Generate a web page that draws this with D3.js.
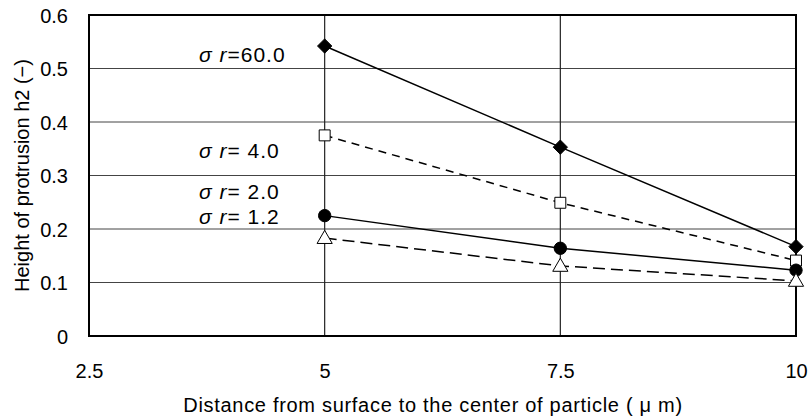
<!DOCTYPE html>
<html>
<head>
<meta charset="utf-8">
<script src="https://cdn.jsdelivr.net/npm/d3@7"></script>
<style>
  body { margin: 0; background: #fff; }
  svg text { font-family: "Liberation Sans", Arial, sans-serif; fill: #000; }
</style>
</head>
<body>
<div id="chart"></div>
<script>
const distances = [5, 7.5, 10];
const xTicks = [2.5, 5, 7.5, 10];
const yTicks = [0, 0.1, 0.2, 0.3, 0.4, 0.5, 0.6];

const sigma60 = [0.542, 0.353, 0.167];
const sigma4 = [0.375, 0.249, 0.141];
const sigma2 = [0.225, 0.164, 0.123];
const sigma12 = [0.183, 0.131, 0.103];

const seriesNames = ["=60.0", "= 4.0", "= 2.0", "= 1.2"];

const width = 808;
const height = 418;
const margin = { top: 15, right: 12, bottom: 82, left: 89 };

const svg = d3.select("#chart")
    .append("svg")
    .attr("width", width)
    .attr("height", height);

const x = d3.scaleLinear()
    .domain([2.5, 10])
    .range([margin.left, width - margin.right]);

const y = d3.scaleLinear()
    .domain([0, 0.6])
    .range([height - margin.bottom, margin.top]);

// horizontal gridlines
svg.append("g")
    .selectAll("line")
    .data(yTicks.slice(1, -1))
    .enter()
    .append("line")
    .attr("x1", x(2.5))
    .attr("x2", x(10))
    .attr("y1", d => y(d))
    .attr("y2", d => y(d))
    .attr("stroke", "#444")
    .attr("stroke-width", 1);

// vertical gridlines
svg.append("g")
    .selectAll("line")
    .data([5, 7.5])
    .enter()
    .append("line")
    .attr("x1", d => x(d))
    .attr("x2", d => x(d))
    .attr("y1", y(0))
    .attr("y2", y(0.6))
    .attr("stroke", "#222")
    .attr("stroke-width", 1.2);

// frame
svg.append("rect")
    .attr("x", x(2.5))
    .attr("y", y(0.6))
    .attr("width", x(10) - x(2.5))
    .attr("height", y(0) - y(0.6))
    .attr("fill", "none")
    .attr("stroke", "#000")
    .attr("stroke-width", 2);

// axes (labels only)
const yAxis = svg.append("g")
    .attr("transform", `translate(${margin.left}, 0)`)
    .call(d3.axisLeft(y).tickValues(yTicks).tickSize(0).tickPadding(21)
        .tickFormat(d => d === 0 ? "0" : d3.format(".1f")(d)));
yAxis.select(".domain").remove();
yAxis.selectAll("text").style("font-size", "20px").attr("dy", "0.35em");

const xAxis = svg.append("g")
    .attr("transform", `translate(0, ${height - margin.bottom})`)
    .call(d3.axisBottom(x).tickValues(xTicks).tickSize(0).tickPadding(28)
        .tickFormat(d => String(d)));
xAxis.select(".domain").remove();
xAxis.selectAll("text").style("font-size", "20px");

svg.append("text")
    .attr("x", 433)
    .attr("y", 412)
    .attr("text-anchor", "middle")
    .style("font-size", "20px")
    .style("letter-spacing", "0.7px")
    .text("Distance from surface to the center of particle ( μ m)");

svg.append("text")
    .attr("transform", `translate(29, ${(y(0) + y(0.6)) / 2}) rotate(-90)`)
    .attr("text-anchor", "middle")
    .style("font-size", "20px")
    .text("Height of protrusion h2 (−)");

const line = d3.line()
    .x((d, i) => x(distances[i]))
    .y(d => y(d));

const series = [
    { values: sigma60, dash: null, marker: "diamond" },
    { values: sigma4, dash: "8,6", marker: "square" },
    { values: sigma2, dash: null, marker: "circle" },
    { values: sigma12, dash: "12,6", marker: "triangle" }
];

series.forEach(s => {
    svg.append("path")
        .datum(s.values)
        .attr("d", line)
        .attr("fill", "none")
        .attr("stroke", "#000")
        .attr("stroke-width", 1.5)
        .attr("stroke-dasharray", s.dash);

    const symbolType = {
        diamond: d3.symbolDiamond2,
        square: d3.symbolSquare,
        circle: d3.symbolCircle,
        triangle: d3.symbolTriangle
    }[s.marker];
    const size = { diamond: 130, square: 120, circle: 120, triangle: 100 }[s.marker];
    const filled = s.marker === "diamond" || s.marker === "circle";

    svg.append("g")
        .selectAll("path")
        .data(s.values)
        .enter()
        .append("path")
        .attr("transform", (d, i) => `translate(${x(distances[i])}, ${y(d) + (s.marker === "triangle" ? 1 : 0)})`)
        .attr("d", d3.symbol().type(symbolType).size(size))
        .attr("fill", filled ? "#000" : "#fff")
        .attr("stroke", "#000")
        .attr("stroke-width", 1);
});

// series labels
const labelPos = [62, 158, 199, 224];
seriesNames.forEach((name, i) => {
    const t = svg.append("text")
        .attr("x", 199)
        .attr("y", labelPos[i])
        .style("font-size", "21px")
        .style("letter-spacing", "1px");
    t.append("tspan").style("font-style", "italic").text("σ r");
    t.append("tspan").text(name);
});
</script>
</body>
</html>
